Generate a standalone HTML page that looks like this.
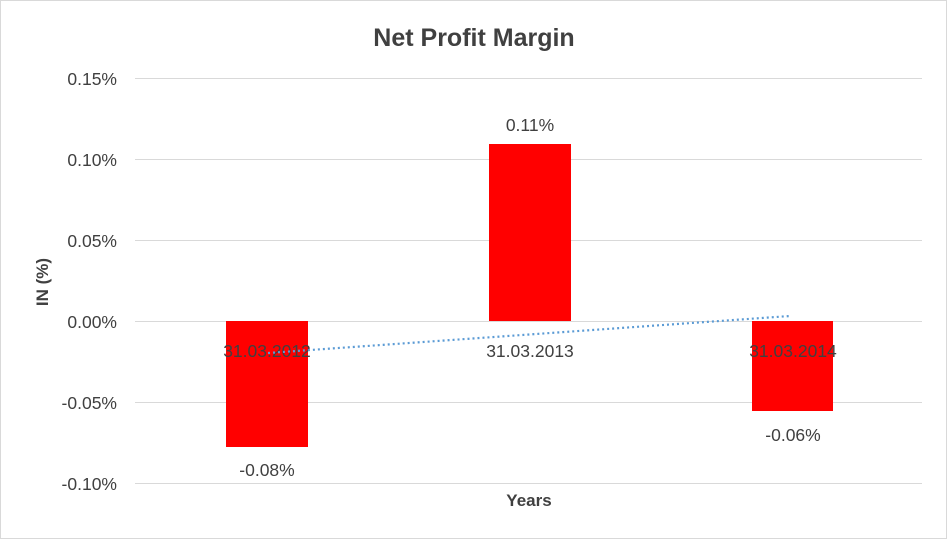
<!DOCTYPE html>
<html><head><meta charset="utf-8"><style>
html,body{margin:0;padding:0;background:#fff;}
svg{display:block;font-family:"Liberation Sans",Arial,sans-serif;}
</style></head><body>
<svg width="947" height="539" viewBox="0 0 947 539" xmlns="http://www.w3.org/2000/svg">
<rect x="0.5" y="0.5" width="946" height="538" fill="#fff" stroke="#d9d9d9"/>
<text x="474" y="46" text-anchor="middle" font-size="25" font-weight="bold" fill="#404040">Net Profit Margin</text>
<g stroke="#d9d9d9" stroke-width="1">
<line x1="135" y1="78.5" x2="922" y2="78.5"/>
<line x1="135" y1="159.5" x2="922" y2="159.5"/>
<line x1="135" y1="240.5" x2="922" y2="240.5"/>
<line x1="135" y1="321.5" x2="922" y2="321.5"/>
<line x1="135" y1="402.5" x2="922" y2="402.5"/>
<line x1="135" y1="483.5" x2="922" y2="483.5"/>
</g>
<g font-size="17.5" fill="#404040" text-anchor="end">
<text x="117" y="85">0.15%</text>
<text x="117" y="166">0.10%</text>
<text x="117" y="247">0.05%</text>
<text x="117" y="328">0.00%</text>
<text x="117" y="409">-0.05%</text>
<text x="117" y="490">-0.10%</text>
</g>
<rect x="226" y="321" width="82" height="126" fill="#ff0000"/>
<rect x="489" y="144" width="82" height="177" fill="#ff0000"/>
<rect x="752" y="321" width="81" height="90" fill="#ff0000"/>
<g font-size="17.5" fill="#404040" text-anchor="middle">
<text x="267" y="357">31.03.2012</text>
<text x="530" y="357">31.03.2013</text>
<text x="793" y="357">31.03.2014</text>
<text x="267" y="476">-0.08%</text>
<text x="530" y="131">0.11%</text>
<text x="793" y="441">-0.06%</text>
</g>
<line x1="268" y1="353" x2="790" y2="316" stroke="#5b9bd5" stroke-width="2.2" stroke-dasharray="2,3"/>
<text x="529" y="506" text-anchor="middle" font-size="17" font-weight="bold" fill="#404040">Years</text>
<text transform="translate(48,282) rotate(-90)" text-anchor="middle" font-size="17" font-weight="bold" fill="#404040">IN (%)</text>
</svg>
</body></html>
